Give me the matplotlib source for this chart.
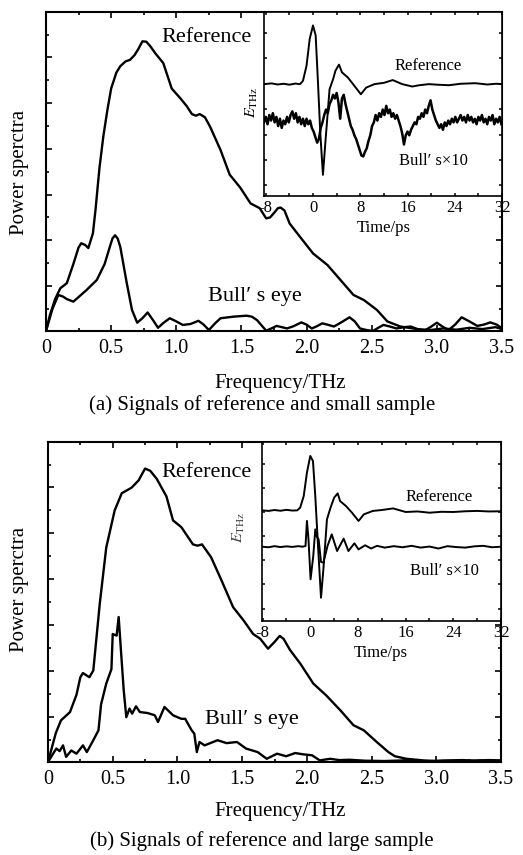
import numpy as np
import matplotlib
matplotlib.use("Agg")
import matplotlib.pyplot as plt
from matplotlib.ticker import FixedLocator, MultipleLocator, NullFormatter

plt.rcParams['font.family'] = ['Liberation Serif', 'DejaVu Serif']
plt.rcParams['mathtext.fontset'] = 'stix'

# ---------------- data: panel (a) main spectra ----------------
ref_a_f = [0, 0.03, 0.07, 0.11, 0.16, 0.21, 0.25, 0.27, 0.30, 0.325, 0.36, 0.38, 0.41, 0.44, 0.47, 0.50, 0.54,
           0.57, 0.61, 0.645, 0.68, 0.71, 0.74, 0.77, 0.80, 0.84, 0.90, 0.965, 1.03, 1.08, 1.12, 1.15, 1.18,
           1.22, 1.26, 1.34, 1.41, 1.49, 1.57, 1.64, 1.69, 1.72, 1.75, 1.78, 1.80, 1.83, 1.87, 1.95, 2.05, 2.16,
           2.26, 2.36, 2.44, 2.54, 2.62, 2.72, 2.85, 2.95, 3.05, 3.15, 3.25, 3.35, 3.45, 3.5]
ref_a_p = [0, 0.05, 0.1, 0.134, 0.15, 0.21, 0.262, 0.275, 0.27, 0.26, 0.306, 0.38, 0.51, 0.61, 0.69, 0.76, 0.81,
           0.83, 0.845, 0.85, 0.865, 0.885, 0.908, 0.907, 0.893, 0.87, 0.84, 0.76, 0.73, 0.705, 0.68, 0.675, 0.68,
           0.67, 0.64, 0.567, 0.49, 0.45, 0.40, 0.385, 0.353, 0.356, 0.37, 0.385, 0.387, 0.378, 0.337, 0.295, 0.243,
           0.207, 0.16, 0.113, 0.097, 0.066, 0.03, 0.014, 0.006, 0.003, 0.008, 0.004, 0.01, 0.006, 0.012, 0.006]

bull_a_f = [0, 0.05, 0.095, 0.13, 0.16, 0.21, 0.26, 0.31, 0.39, 0.45, 0.49, 0.51, 0.53, 0.55, 0.57, 0.62, 0.66,
            0.70, 0.74, 0.78, 0.82, 0.86, 0.90, 0.95, 1.00, 1.05, 1.11, 1.17, 1.21, 1.25, 1.30, 1.34, 1.44, 1.54,
            1.58, 1.62, 1.66, 1.69, 1.73, 1.77, 1.81, 1.85, 1.90, 1.96, 2.00, 2.04, 2.08, 2.12, 2.16, 2.21, 2.27,
            2.33, 2.37, 2.41, 2.46, 2.51, 2.55, 2.59, 2.64, 2.69, 2.75, 2.80, 2.85, 2.90, 2.95, 3.0, 3.05,
            3.09, 3.14, 3.19, 3.25, 3.31, 3.36, 3.41, 3.46, 3.5]
bull_a_p = [0, 0.07, 0.113, 0.108, 0.10, 0.092, 0.11, 0.128, 0.16, 0.21, 0.264, 0.29, 0.30, 0.29, 0.264, 0.15, 0.066,
            0.026, 0.04, 0.058, 0.035, 0.01, 0.025, 0.04, 0.03, 0.019, 0.022, 0.032, 0.02, 0.003, 0.025, 0.04, 0.045,
            0.048, 0.045, 0.034, 0.015, 0.001, 0.008, 0.016, 0.012, 0.008, 0.015, 0.027, 0.02, 0.008, 0.015, 0.024,
            0.02, 0.014, 0.028, 0.043, 0.03, 0.008, 0.003, 0.0, 0.01, 0.019, 0.014, 0.008, 0.012, 0.014, 0.006, 0.0,
            0.012, 0.026, 0.012, 0.003, 0.02, 0.043, 0.03, 0.016, 0.02, 0.027, 0.02, 0.008]

# ---------------- data: panel (a) inset time signals ----------------
ref_a_t = [-8.3, -7, -6, -5, -4, -3, -2.2, -1.7, -1.1, -0.56, 0, 0.45, 0.84, 1.23, 1.68, 2.13, 2.8, 3.4,
           3.8, 4.4, 4.9, 5.9, 7.0, 8.1, 9.0, 10.4, 12, 13.5, 15.1, 16.8, 18, 19.6, 21, 23, 25, 27.5, 29.5, 31, 32]
ref_a_e = [0.608, 0.612, 0.606, 0.61, 0.605, 0.611, 0.608, 0.626, 0.708, 0.854, 0.927, 0.872, 0.617, 0.343,
           0.115, 0.307, 0.58, 0.635, 0.681, 0.714, 0.672, 0.644, 0.599, 0.553, 0.589, 0.608, 0.615, 0.63, 0.608,
           0.595, 0.602, 0.608, 0.605, 0.602, 0.61, 0.613, 0.606, 0.61, 0.608]

bull_a_e = [0.40, 0.43, 0.39, 0.44, 0.41, 0.45, 0.40, 0.43, 0.38, 0.42,
            0.37, 0.41, 0.39, 0.43, 0.40, 0.44, 0.46, 0.42, 0.45, 0.40,
            0.43, 0.39, 0.42, 0.38, 0.42, 0.39, 0.41, 0.37, 0.35, 0.32,
            0.29, 0.31, 0.37, 0.40, 0.44, 0.47, 0.45, 0.50, 0.52, 0.55,
            0.53, 0.56, 0.51, 0.42, 0.53, 0.55, 0.50, 0.46, 0.42, 0.38,
            0.36, 0.33, 0.31, 0.28, 0.25, 0.22, 0.215, 0.24, 0.26, 0.30,
            0.33, 0.38, 0.40, 0.44, 0.41, 0.45, 0.43, 0.47, 0.44, 0.49,
            0.45, 0.47, 0.43, 0.45, 0.42, 0.44, 0.41, 0.38, 0.34, 0.28,
            0.33, 0.35, 0.33, 0.36, 0.38, 0.40, 0.39, 0.43, 0.42, 0.45,
            0.43, 0.47, 0.45, 0.49, 0.52, 0.47, 0.44, 0.41, 0.39, 0.37,
            0.39, 0.36, 0.40, 0.38, 0.41, 0.39, 0.42, 0.40, 0.43, 0.40,
            0.42, 0.44, 0.41, 0.43, 0.40, 0.44, 0.41, 0.43, 0.40, 0.42,
            0.39, 0.43, 0.41, 0.44, 0.40, 0.42, 0.39, 0.43, 0.41, 0.44,
            0.39, 0.42, 0.40, 0.43, 0.39]
bull_a_t = np.linspace(-8.3, 31.9, len(bull_a_e))

# ---------------- data: panel (b) main spectra ----------------
ref_b_f = [0, 0.03, 0.06, 0.10, 0.17, 0.22, 0.25, 0.27, 0.30, 0.32, 0.35, 0.40, 0.45, 0.515, 0.57, 0.645, 0.70,
           0.75, 0.79, 0.84, 0.915, 0.966, 1.03, 1.12, 1.155, 1.19, 1.26, 1.34, 1.43, 1.51, 1.585, 1.64, 1.70,
           1.75, 1.79, 1.82, 1.87, 1.95, 2.05, 2.15, 2.26, 2.36, 2.44, 2.54, 2.63, 2.68, 2.77, 2.9, 3.0, 3.1,
           3.2, 3.3, 3.4, 3.5]
ref_b_p = [0, 0.045, 0.09, 0.13, 0.156, 0.21, 0.265, 0.278, 0.27, 0.265, 0.286, 0.495, 0.67, 0.786, 0.84, 0.857,
           0.88, 0.917, 0.91, 0.885, 0.83, 0.755, 0.734, 0.68, 0.676, 0.68, 0.64, 0.568, 0.484, 0.443, 0.40, 0.385,
           0.354, 0.375, 0.394, 0.385, 0.35, 0.307, 0.245, 0.208, 0.161, 0.115, 0.099, 0.0625, 0.031, 0.018, 0.01,
           0.005, 0.003, 0.005, 0.006, 0.004, 0.006, 0.005]

bull_b_f = [0, 0.064, 0.09, 0.116, 0.14, 0.18, 0.22, 0.27, 0.30, 0.35, 0.39, 0.41, 0.45, 0.49, 0.50, 0.53,
            0.546, 0.56, 0.585, 0.605, 0.63, 0.65, 0.68, 0.71, 0.77, 0.825, 0.85, 0.90, 0.966, 1.03, 1.06, 1.11,
            1.13, 1.15, 1.17, 1.21, 1.31, 1.38, 1.46, 1.53, 1.62, 1.69, 1.77, 1.84, 1.91, 1.97, 2.04, 2.10,
            2.18, 2.25, 2.33, 2.45, 2.6, 2.75, 2.9, 3.05, 3.2, 3.35, 3.5]
bull_b_p = [0, 0.042, 0.034, 0.052, 0.016, 0.036, 0.026, 0.052, 0.031, 0.068, 0.099, 0.18, 0.245, 0.29, 0.40, 0.395,
            0.453, 0.37, 0.224, 0.14, 0.167, 0.151, 0.174, 0.156, 0.153, 0.146, 0.125, 0.172, 0.146, 0.135, 0.135, 0.099,
            0.089, 0.031, 0.0625, 0.052, 0.068, 0.059, 0.0625, 0.042, 0.031, 0.01, 0.026, 0.018, 0.028, 0.024, 0.021, 0.005,
            0.01, 0.006, 0.007, 0.004, 0.003, 0.005, 0.002, 0.004, 0.003, 0.005, 0.003]

# ---------------- data: panel (b) inset time signals ----------------
ref_b_t = [-8.1, -7, -6, -5, -4, -3, -2.2, -1.7, -1.1, -0.56, 0, 0.45, 0.84, 1.3, 1.8, 2.2, 2.8, 3.4, 4.0,
           4.6, 5.0, 6.0, 7.0, 8.1, 9.0, 10.5, 12, 13.9, 16, 18, 20, 22, 24, 26, 28, 30, 32]
ref_b_e = [0.618, 0.615, 0.62, 0.616, 0.621, 0.617, 0.618, 0.633, 0.698, 0.829, 0.922, 0.894, 0.698, 0.419,
           0.13, 0.289, 0.568, 0.633, 0.689, 0.713, 0.67, 0.642, 0.605, 0.559, 0.596, 0.615, 0.62, 0.629, 0.609,
           0.612, 0.605, 0.61, 0.609, 0.613, 0.615, 0.612, 0.613]

bull_b_t = [-8.1, -7, -6, -5, -4, -3, -2, -1.3, -0.8, -0.56, -0.3, 0.05, 0.5, 0.84, 1.1, 1.4, 1.8, 2.2, 2.9,
            3.6, 4.5, 5.6, 6.4, 7.4, 8.1, 9.2, 10.2, 11.2, 12.5, 14, 15.5, 17, 18.5, 20, 21.5, 23, 24.5, 26,
            27.5, 29, 30.5, 32]
bull_b_e = [0.415, 0.412, 0.418, 0.413, 0.417, 0.414, 0.418, 0.415, 0.419, 0.559, 0.456, 0.233, 0.363, 0.512,
            0.47, 0.456, 0.33, 0.326, 0.42, 0.484, 0.391, 0.46, 0.391, 0.434, 0.40, 0.423, 0.405, 0.42, 0.41,
            0.418, 0.412, 0.42, 0.41, 0.416, 0.405, 0.418, 0.413, 0.41, 0.417, 0.42, 0.412, 0.415]

freq_ticks = [0, 0.5, 1.0, 1.5, 2.0, 2.5, 3.0, 3.5]
freq_labels = ['0', '0.5', '1.0', '1.5', '2.0', '2.5', '3.0', '3.5']
time_ticks = [-8, 0, 8, 16, 24, 32]
time_labels = ['-8', '0', '8', '16', '24', '32']

# ---------------- layout ----------------
W, H = 523, 855
fig = plt.figure(figsize=(W / 100, H / 100), dpi=100)


def rect(l, t, r, b):
    return [l / W, 1 - b / H, (r - l) / W, (b - t) / H]


def ftext(x, y, s, **kw):
    fig.text(x / W, 1 - y / H, s, ha='center', va='center', **kw)


def style_main(ax):
    ax.set_xlim(0, 3.5)
    ax.set_ylim(0, 1)
    ax.set_xticks(freq_ticks)
    ax.set_xticklabels(freq_labels)
    ax.xaxis.set_minor_locator(MultipleLocator(0.25))
    ax.yaxis.set_major_locator(FixedLocator([0.141 + k * 0.1434 for k in range(6)]))
    ax.yaxis.set_minor_locator(FixedLocator([0.069 + k * 0.1434 for k in range(7)]))
    ax.yaxis.set_major_formatter(NullFormatter())
    ax.tick_params(which='both', direction='in', top=True, right=True, width=1.2, labelsize=14.5, pad=6)
    ax.tick_params(which='major', length=4.5)
    ax.tick_params(which='minor', length=2.5)
    for s in ax.spines.values():
        s.set_linewidth(1.5)


def style_inset(ax, xmin, yt0, ytd):
    ax.set_xlim(xmin, 32)
    ax.set_ylim(0, 1)
    ax.set_xticks(time_ticks)
    ax.set_xticklabels(time_labels)
    ax.xaxis.set_minor_locator(MultipleLocator(4))
    ax.yaxis.set_major_locator(FixedLocator([yt0 + k * ytd for k in range(7)]))
    ax.yaxis.set_major_formatter(NullFormatter())
    ax.tick_params(which='both', direction='in', top=True, right=True, width=1.1, length=2.5,
                   labelsize=12, pad=3)
    for s in ax.spines.values():
        s.set_linewidth(1.2)


lw_main = 1.7
lw_ins = 1.4

# ---- panel (a)
axA = fig.add_axes(rect(46, 12, 502, 331))
axA.plot(ref_a_f, ref_a_p, color='black', lw=lw_main)
axA.plot(bull_a_f, bull_a_p, color='black', lw=lw_main)
style_main(axA)

insA = fig.add_axes(rect(264, 12, 502, 196))
insA.plot(ref_a_t, ref_a_e, color='black', lw=lw_ins)
insA.plot(bull_a_t, bull_a_e, color='black', lw=1.8)
style_inset(insA, -8.3, 0.058, 0.138)

# ---- panel (b)
axB = fig.add_axes(rect(48, 442, 501, 762))
axB.plot(ref_b_f, ref_b_p, color='black', lw=lw_main)
axB.plot(bull_b_f, bull_b_p, color='black', lw=lw_main)
style_main(axB)

insB = fig.add_axes(rect(262, 442, 501, 621))
insB.plot(ref_b_t, ref_b_e, color='black', lw=lw_ins)
insB.plot(bull_b_t, bull_b_e, color='black', lw=lw_ins)
style_inset(insB, -8.1, 0.069, 0.135)

# ---- texts panel (a)
ftext(207, 37, 'Reference', fontsize=16)
ftext(255, 297, 'Bull\u2032 s eye', fontsize=16)
ftext(428, 66, 'Reference', fontsize=12)
ftext(433, 161, 'Bull\u2032 s\u00d710', fontsize=12)
ftext(252, 102, r'$E_{\mathrm{THz}}$', fontsize=11.5, rotation=90)
ftext(384, 228, 'Time/ps', fontsize=12)
ftext(20, 172, 'Power sperctra', fontsize=15, rotation=90)
ftext(280, 383, 'Frequency/THz', fontsize=15)
ftext(262, 405, '(a) Signals of reference and small sample', fontsize=15)

# ---- texts panel (b)
ftext(207, 472, 'Reference', fontsize=16)
ftext(252, 719, 'Bull\u2032 s eye', fontsize=16)
ftext(439, 497, 'Reference', fontsize=12)
ftext(444, 571, 'Bull\u2032 s\u00d710', fontsize=12)
ftext(239, 527, r'$E_{\mathrm{THz}}$', fontsize=11.5, rotation=90, color='#444444')
ftext(381, 653, 'Time/ps', fontsize=12)
ftext(20, 589, 'Power sperctra', fontsize=15, rotation=90)
ftext(280, 811, 'Frequency/THz', fontsize=15)
ftext(262, 841, '(b) Signals of reference and large sample', fontsize=15)

fig.savefig('out.png', dpi=100)
